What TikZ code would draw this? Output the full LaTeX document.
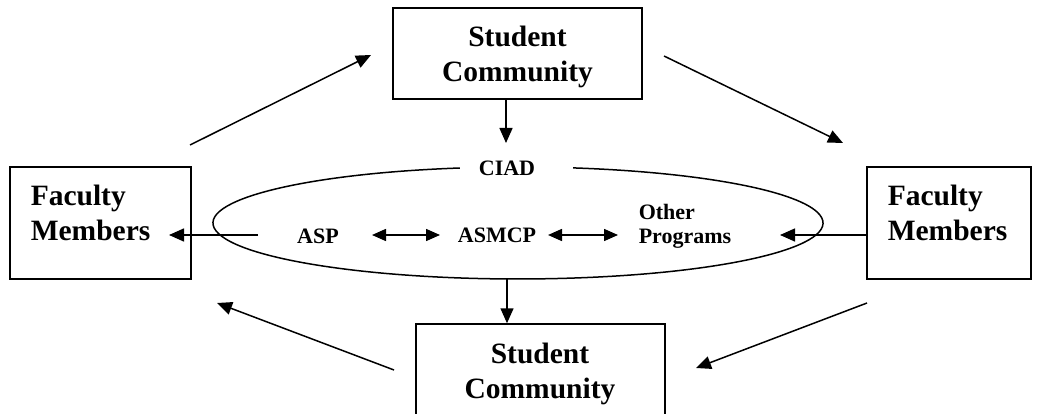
\documentclass[tikz,border=0pt]{standalone}
\usepackage{fontspec}
\setmainfont{Liberation Serif}
\usetikzlibrary{arrows.meta}
\begin{document}
\begin{tikzpicture}[x=1pt,y=1pt,line width=1.5pt,
  boxs/.style={draw,rectangle,inner sep=0pt},
  bigtext/.style={font=\fontsize{29.5}{35}\selectfont\bfseries,inner sep=0pt},
  smalltext/.style={font=\fontsize{22}{24}\selectfont\bfseries,inner sep=0pt},
  conn/.style={-{Triangle[length=15pt,width=13pt]}},
  dconn/.style={{Triangle[length=14pt,width=12pt]}-{Triangle[length=14pt,width=12pt]}}]
\path[use as bounding box] (0,0) rectangle (1038,413);
\clip (0,0) rectangle (1038,413);
% boxes
\node[boxs,minimum width=249,minimum height=91] (topbox) at (517.5,359.5) {};
\node[boxs,minimum width=249,minimum height=91] (botbox) at (540.5,43.5) {};
\node[boxs,minimum width=181,minimum height=112] (fmL) at (100.5,190) {};
\node[boxs,minimum width=164,minimum height=112] (fmR) at (949,190) {};
% box texts (base = baseline of last line)
\node[bigtext,align=center,anchor=base] (topt) at (517.5,331.3) {Student\\Community};
\node[bigtext,align=center,anchor=base] (bott) at (540,14.7) {Student\\Community};
\node[bigtext,align=left,anchor=base west] (fmLt) at (30,173) {Faculty\\Members};
\node[bigtext,align=left,anchor=base west] (fmRt) at (887,173) {Faculty\\Members};
% ellipse with gap for CIAD
\draw (459.8,245) arc[start angle=101,end angle=439.6,x radius=305,y radius=56];
\node[smalltext,anchor=base] (ciad) at (507,238) {CIAD};
\node[smalltext,anchor=base] (asp) at (318,170) {ASP};
\node[smalltext,anchor=base] (asmcp) at (497,171) {ASMCP};
\node[smalltext,align=left,anchor=base west] (other) at (638,170) {Other\\Programs};
% coordinates for free ends
\coordinate (tA) at (506,270);
\coordinate (eB) at (507,134);
\coordinate (lA) at (258,178);
\coordinate (lB) at (169,178);
\coordinate (rA) at (780,178);
\coordinate (a1s) at (372,178);
\coordinate (a1e) at (440,178);
\coordinate (a2s) at (548,178);
\coordinate (a2e) at (618,178);
\coordinate (ul1) at (190,268);
\coordinate (ul2) at (371,358);
\coordinate (ur1) at (664,357);
\coordinate (ur2) at (843,270);
\coordinate (ll1) at (394,43);
\coordinate (ll2) at (217,110);
\coordinate (lr1) at (867,110);
\coordinate (lr2) at (696,45);
% connectors
\draw[conn] (topbox.south -| tA) -- (tA);
\draw[conn] (eB) -- (eB |- botbox.north);
\draw[conn] (lA) -- (lB);
\draw[conn] (fmR.west |- rA) -- (rA);
\draw[dconn] (a1s) -- (a1e);
\draw[dconn] (a2s) -- (a2e);
\draw[conn] (ul1) -- (ul2);
\draw[conn] (ur1) -- (ur2);
\draw[conn] (ll1) -- (ll2);
\draw[conn] (lr1) -- (lr2);
\end{tikzpicture}
\end{document}
